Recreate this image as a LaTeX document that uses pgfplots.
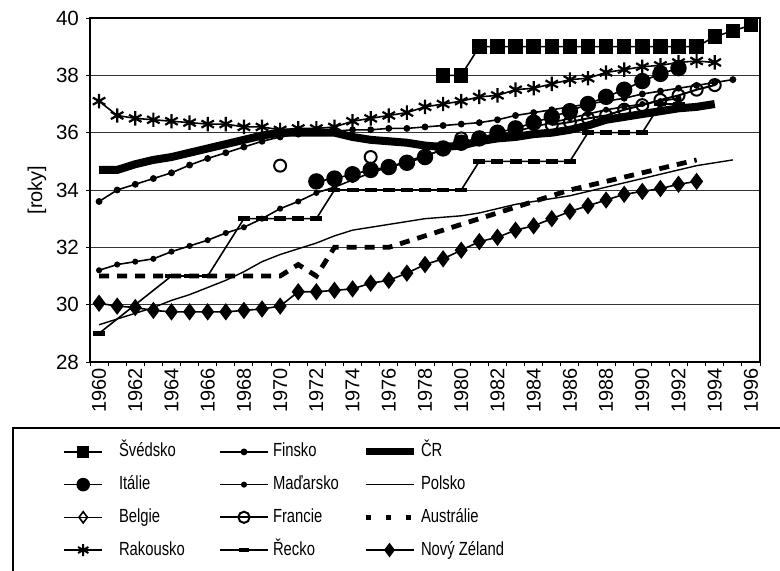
\documentclass[border=0pt]{standalone}
\usepackage{fontspec}
\setmainfont{Liberation Sans}
\usepackage{graphicx}
\usepackage{pgfplots}
\pgfplotsset{compat=1.18}
\pgfplotsset{
 limgA/.style={legend image code/.code={\draw[mark repeat=2,mark phase=2,##1] plot coordinates {(0pt,0pt) (9.5pt,0pt) (19pt,0pt)};}},
 limgB/.style={legend image code/.code={\draw[mark repeat=2,mark phase=2,##1] plot coordinates {(0pt,0pt) (12pt,0pt) (24pt,0pt)};}},
 limgC/.style={legend image code/.code={\draw[mark repeat=2,mark phase=2,##1] plot coordinates {(0pt,0pt) (12pt,0pt) (24pt,0pt)};}},
}
\newcommand{\lA}[1]{\makebox[58pt][l]{\hspace{8pt}\scalebox{0.78}[1]{#1}}}
\newcommand{\lB}[1]{\makebox[46.5pt][l]{\hspace{2pt}\scalebox{0.78}[1]{#1}}}
\newcommand{\lC}[1]{\makebox[60pt][l]{\hspace{2pt}\scalebox{0.78}[1]{#1}}}
\begin{document}
\begin{tikzpicture}[x=1pt,y=1pt]
\useasboundingbox (0,0) rectangle (390,285);
\begin{axis}[
 at={(45pt,104pt)}, anchor=south west,
 scale only axis, width=335pt, height=172pt,
 xmin=1959.5, xmax=1996.5, ymin=28, ymax=40,
 xtick={1960,1962,...,1996}, ytick={28,30,...,40},
 minor xtick={1959.5,1960.5,...,1996.5},
 tick align=outside, major tick length=2pt, minor tick length=2pt,
 major x tick style={draw=none},
 tick style={black, line width=0.5pt},
 xtick pos=bottom, ytick pos=left,
 /pgf/number format/assume math mode=true,
 /pgf/number format/1000 sep={},
 xticklabel style={rotate=90, anchor=east, inner sep=1pt, font=\fontsize{10}{12}\selectfont},
 yticklabel style={font=\fontsize{10.3}{12}\selectfont},
 ylabel={[roky]},
 ylabel style={at={(axis description cs:-0.079,0.5)}, anchor=center, font=\fontsize{10}{12}\selectfont},
 ymajorgrids, major grid style={black!80, line width=0.45pt},
 axis line style={black, line width=0.6pt},
 legend columns=3,
 legend cell align=left,
 legend style={draw=none, fill=none, inner sep=0pt, column sep=0pt, row sep=7.35pt,
   at={(-0.0403,-0.2340)}, anchor=north west,
   nodes={inner sep=0pt, text height=7pt, text depth=2pt},
   font=\fontsize{9.5}{11}\selectfont},
]
% Polsko
\addplot[black, line width=0.7pt, forget plot] coordinates {
(1960,29.3)(1961,29.5)(1962,29.7)(1963,29.9)(1964,30.15)(1965,30.35)(1966,30.6)(1967,30.85)(1968,31.15)(1969,31.5)
(1970,31.75)(1971,31.95)(1972,32.15)(1973,32.4)(1974,32.6)(1975,32.7)(1976,32.8)(1977,32.9)(1978,33.0)(1979,33.05)
(1980,33.1)(1981,33.2)(1982,33.35)(1983,33.5)(1984,33.6)(1985,33.7)(1986,33.8)(1987,33.95)(1988,34.1)(1989,34.25)
(1990,34.4)(1991,34.55)(1992,34.7)(1993,34.85)(1994,34.95)(1995,35.05)};
% Australie
\addplot[black, line width=2.4pt, dash pattern=on 5pt off 4pt, forget plot] coordinates {
(1960,31.0)(1961,31.0)(1962,31.0)(1963,31.0)(1964,31.0)(1965,31.0)(1966,31.0)(1967,31.0)(1968,31.0)(1969,31.0)
(1970,31.0)(1971,31.4)(1972,31.0)(1973,32.0)(1974,32.0)(1975,32.0)(1976,32.0)(1977,32.2)(1978,32.4)(1979,32.6)
(1980,32.8)(1981,33.0)(1982,33.2)(1983,33.4)(1984,33.6)(1985,33.8)(1986,34.0)(1987,34.15)(1988,34.3)(1989,34.45)
(1990,34.6)(1991,34.75)(1992,34.9)(1993,35.05)};
% Recko
\addplot[black, line width=0.8pt, mark=-, mark size=3pt, mark options={line width=2.2pt}, forget plot] coordinates {
(1960,29.0)(1964,31.0)(1965,31.0)(1966,31.0)(1968,33.0)(1969,33.0)(1970,33.0)(1971,33.0)(1972,33.0)
(1973,34.0)(1974,34.0)(1975,34.0)(1976,34.0)(1977,34.0)(1978,34.0)(1979,34.0)(1980,34.0)
(1981,35.0)(1982,35.0)(1983,35.0)(1984,35.0)(1985,35.0)(1986,35.0)
(1987,36.0)(1988,36.0)(1989,36.0)(1990,36.0)(1991,37.0)(1992,37.0)};
% CR
\addplot[black, line width=4pt, line join=round, forget plot] coordinates {
(1960,34.7)(1961,34.7)(1962,34.9)(1963,35.05)(1964,35.15)(1965,35.3)(1966,35.45)(1967,35.6)(1968,35.75)(1969,35.9)
(1970,36.0)(1971,36.0)(1972,36.0)(1973,36.0)(1974,35.85)(1975,35.75)(1976,35.7)(1977,35.65)(1978,35.55)(1979,35.5)
(1980,35.55)(1981,35.7)(1982,35.8)(1983,35.85)(1984,35.95)(1985,36.0)(1986,36.1)(1987,36.25)(1988,36.45)(1989,36.55)
(1990,36.65)(1991,36.75)(1992,36.85)(1993,36.9)(1994,37.0)};
% Finsko
\addplot[black, line width=0.8pt, mark=*, mark size=1.3pt, forget plot] coordinates {
(1960,33.6)(1961,34.0)(1962,34.2)(1963,34.4)(1964,34.6)(1965,34.87)(1966,35.1)(1967,35.3)(1968,35.5)(1969,35.7)
(1970,35.85)(1971,35.95)(1972,36.0)(1973,36.05)(1974,36.1)(1975,36.1)(1976,36.15)(1977,36.15)(1978,36.2)(1979,36.25)
(1980,36.3)(1981,36.35)(1982,36.45)(1983,36.6)(1984,36.7)(1985,36.8)(1986,36.9)(1987,37.0)(1988,37.1)(1989,37.2)
(1990,37.35)(1991,37.45)(1992,37.55)(1993,37.65)(1994,37.75)(1995,37.85)};
% Madarsko
\addplot[black, line width=0.8pt, mark=*, mark size=1.1pt, forget plot] coordinates {
(1960,31.2)(1961,31.4)(1962,31.5)(1963,31.6)(1964,31.85)(1965,32.05)(1966,32.25)(1967,32.5)(1968,32.7)(1969,33.0)
(1970,33.35)(1971,33.6)(1972,33.9)(1973,34.1)(1974,34.35)(1975,34.6)(1976,34.8)(1977,35.0)(1978,35.2)(1979,35.4)
(1980,35.6)(1981,35.75)(1982,35.9)(1983,36.05)(1984,36.2)(1985,36.35)(1986,36.5)(1987,36.65)(1988,36.8)(1989,36.9)
(1990,37.0)(1991,37.1)(1992,37.2)};
% Rakousko
\addplot[black, line width=0.8pt, mark=asterisk, mark size=3.6pt, mark options={line width=1.1pt}, forget plot] coordinates {
(1960,37.1)(1961,36.6)(1962,36.5)(1963,36.45)(1964,36.4)(1965,36.35)(1966,36.3)(1967,36.3)(1968,36.2)(1969,36.2)
(1970,36.1)(1971,36.15)(1972,36.15)(1973,36.2)(1974,36.4)(1975,36.5)(1976,36.6)(1977,36.7)(1978,36.9)(1979,37.0)
(1980,37.1)(1981,37.25)(1982,37.3)(1983,37.5)(1984,37.55)(1985,37.7)(1986,37.85)(1987,37.9)(1988,38.1)(1989,38.2)
(1990,38.3)(1991,38.35)(1992,38.45)(1993,38.5)(1994,38.45)};
% Francie
\addplot[black, line width=1pt, mark=o, mark size=3pt, unbounded coords=jump, forget plot] coordinates {
(1970,34.85)(1971,nan)(1975,35.15)(1976,nan)(1980,35.8)(1981,nan)
(1985,36.27)(1986,36.37)(1987,36.5)(1988,36.6)(1989,36.8)(1990,36.96)(1991,37.14)(1992,37.3)(1993,37.5)(1994,37.66)};
% Italie
\addplot[black, line width=0.8pt, mark=*, mark size=3.7pt, forget plot] coordinates {
(1972,34.3)(1973,34.4)(1974,34.55)(1975,34.7)(1976,34.8)(1977,34.95)(1978,35.15)(1979,35.45)
(1980,35.65)(1981,35.8)(1982,36.0)(1983,36.15)(1984,36.35)(1985,36.55)(1986,36.75)(1987,37.0)(1988,37.25)(1989,37.5)
(1990,37.8)(1991,38.05)(1992,38.25)};
% Novy Zeland
\addplot[black, line width=0.8pt, mark=diamond*, mark size=3.7pt, forget plot] coordinates {
(1960,30.05)(1961,29.95)(1962,29.9)(1963,29.8)(1964,29.75)(1965,29.75)(1966,29.75)(1967,29.75)(1968,29.8)(1969,29.85)
(1970,29.95)(1971,30.45)(1972,30.45)(1973,30.5)(1974,30.55)(1975,30.75)(1976,30.85)(1977,31.1)(1978,31.4)(1979,31.6)
(1980,31.9)(1981,32.2)(1982,32.35)(1983,32.6)(1984,32.75)(1985,33.0)(1986,33.25)(1987,33.45)(1988,33.65)(1989,33.85)
(1990,33.95)(1991,34.05)(1992,34.2)(1993,34.3)};
% Svedsko
\addplot[black, line width=0.8pt, mark=square*, mark size=3.2pt, forget plot] coordinates {
(1979,38.0)(1980,38.0)(1981,39.0)(1982,39.0)(1983,39.0)(1984,39.0)(1985,39.0)(1986,39.0)(1987,39.0)(1988,39.0)
(1989,39.0)(1990,39.0)(1991,39.0)(1992,39.0)(1993,39.0)(1994,39.35)(1995,39.55)(1996,39.75)};
% legend
\addlegendimage{limgA, black, line width=0.8pt, mark=square*, mark size=2.6pt}
\addlegendentry{\lA{Švédsko}}
\addlegendimage{limgB, black, line width=0.8pt, mark=*, mark size=1.3pt}
\addlegendentry{\lB{Finsko}}
\addlegendimage{legend image code/.code={\draw[black, line width=3.5pt] (0pt,0pt) -- (24pt,0pt);}}
\addlegendentry{\lC{ČR}}
\addlegendimage{limgA, black, line width=0.8pt, mark=*, mark size=3pt}
\addlegendentry{\lA{Itálie}}
\addlegendimage{limgB, black, line width=0.8pt, mark=*, mark size=1.1pt}
\addlegendentry{\lB{Maďarsko}}
\addlegendimage{limgC, black, line width=0.7pt}
\addlegendentry{\lC{Polsko}}
\addlegendimage{limgA, black, line width=0.8pt, mark=diamond, mark size=2.8pt, mark options={fill=white}}
\addlegendentry{\lA{Belgie}}
\addlegendimage{limgB, black, line width=1pt, mark=o, mark size=2.8pt}
\addlegendentry{\lB{Francie}}
\addlegendimage{legend image code/.code={\draw[black, line width=2.4pt, dash pattern=on 2.5pt off 7.5pt] (0pt,0pt) -- (22.5pt,0pt);}}
\addlegendentry{\lC{Austrálie}}
\addlegendimage{limgA, black, line width=0.8pt, mark=asterisk, mark size=3pt, mark options={line width=1pt}}
\addlegendentry{\lA{Rakousko}}
\addlegendimage{limgB, black, line width=0.6pt, mark=-, mark size=2.5pt, mark options={line width=2pt}}
\addlegendentry{\lB{Řecko}}
\addlegendimage{limgC, black, line width=0.8pt, mark=diamond*, mark size=3pt}
\addlegendentry{\lC{Nový Zéland}}
\end{axis}
\draw[black, line width=0.6pt] (6.5,-5) -- (6.5,71) -- (395,71);
\end{tikzpicture}
\end{document}
